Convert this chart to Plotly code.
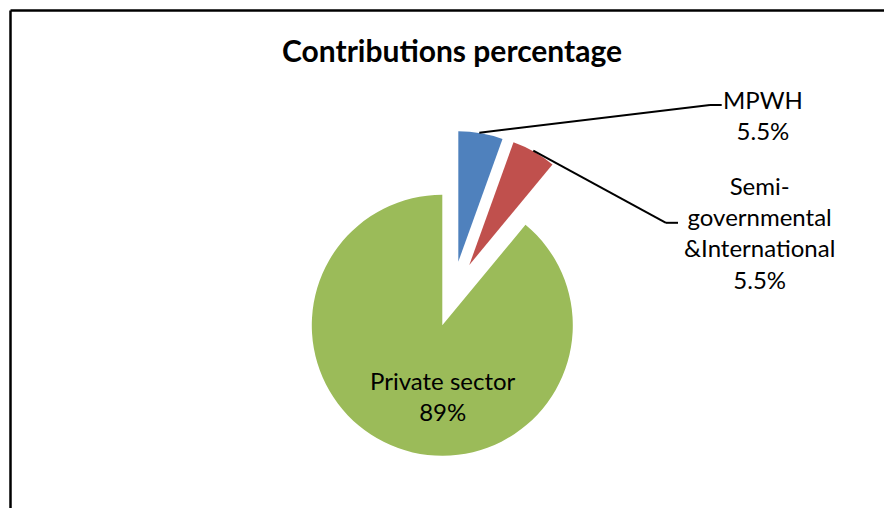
import plotly.graph_objects as go

# Contribution shares by source (percent)
categories = ["MPWH", "Semi-governmental &International", "Private sector"]
shares = [5.5, 5.5, 89]
colors = ["#4F81BD", "#C0504D", "#9BBB59"]

W, H = 884, 508
FONT = "Lato"
R = 130.5  # pie radius in px

# Centre (apex) of each slice's pie disc in px; the first two are exploded
apex = [(458.3, 261.7), (469.3, 265.0), (442.3, 325.3)]


def px(x, y):
    return x / W, 1 - y / H


def wrapped(name):
    return name.replace("Semi-", "Semi-<br>").replace(" &", "<br>&")


fig = go.Figure()
transparent = "rgba(0,0,0,0)"
for i, (cx, cy) in enumerate(apex):
    slice_colors = [c if j == i else transparent for j, c in enumerate(colors)]
    fig.add_trace(go.Pie(
        labels=categories,
        values=shares,
        sort=False,
        direction="clockwise",
        rotation=0,
        marker=dict(colors=slice_colors, line=dict(width=0)),
        textinfo="none",
        hoverinfo="label+percent",
        domain=dict(x=[(cx - R) / W, (cx + R) / W],
                    y=[1 - (cy + R) / H, 1 - (cy - R) / H]),
        showlegend=False,
    ))

annotations = []
# Title
tx, ty = px(452, 50)
annotations.append(dict(x=tx, y=ty, xref="paper", yref="paper", showarrow=False,
                        text="<b>Contributions percentage</b>",
                        font=dict(family=FONT, size=30, color="black"),
                        xanchor="center", yanchor="middle"))

# Data labels
label_pos = [(763, 115), (759, 232), (442.5, 396)]
for name, v, (lx, ly) in zip(categories, shares, label_pos):
    ax, ay = px(lx, ly)
    annotations.append(dict(x=ax, y=ay, xref="paper", yref="paper", showarrow=False,
                            text=f"{wrapped(name)}<br>{v:g}%",
                            font=dict(family=FONT, size=24, color="black"),
                            xanchor="center", yanchor="middle", align="center"))

shapes = []


def seg(x0, y0, x1, y1, width=2):
    a, b = px(x0, y0)
    c, d = px(x1, y1)
    shapes.append(dict(type="line", xref="paper", yref="paper", x0=a, y0=b, x1=c, y1=d,
                       line=dict(color="black", width=width)))


# Leader lines
seg(479.3, 132.7, 710, 105)
seg(710, 105, 721.7, 105)
seg(533.3, 150.7, 666, 222.8)
seg(666, 222.8, 678, 222.8)

# Chart frame (top and left edges)
seg(10.5, 10.5, 884, 10.5, 2.5)
seg(10.5, 10.5, 10.5, 508, 2.5)

fig.update_layout(
    width=W, height=H,
    margin=dict(l=0, r=0, t=0, b=0),
    paper_bgcolor="white",
    plot_bgcolor="white",
    annotations=annotations,
    shapes=shapes,
)

fig.write_html("out.html")
